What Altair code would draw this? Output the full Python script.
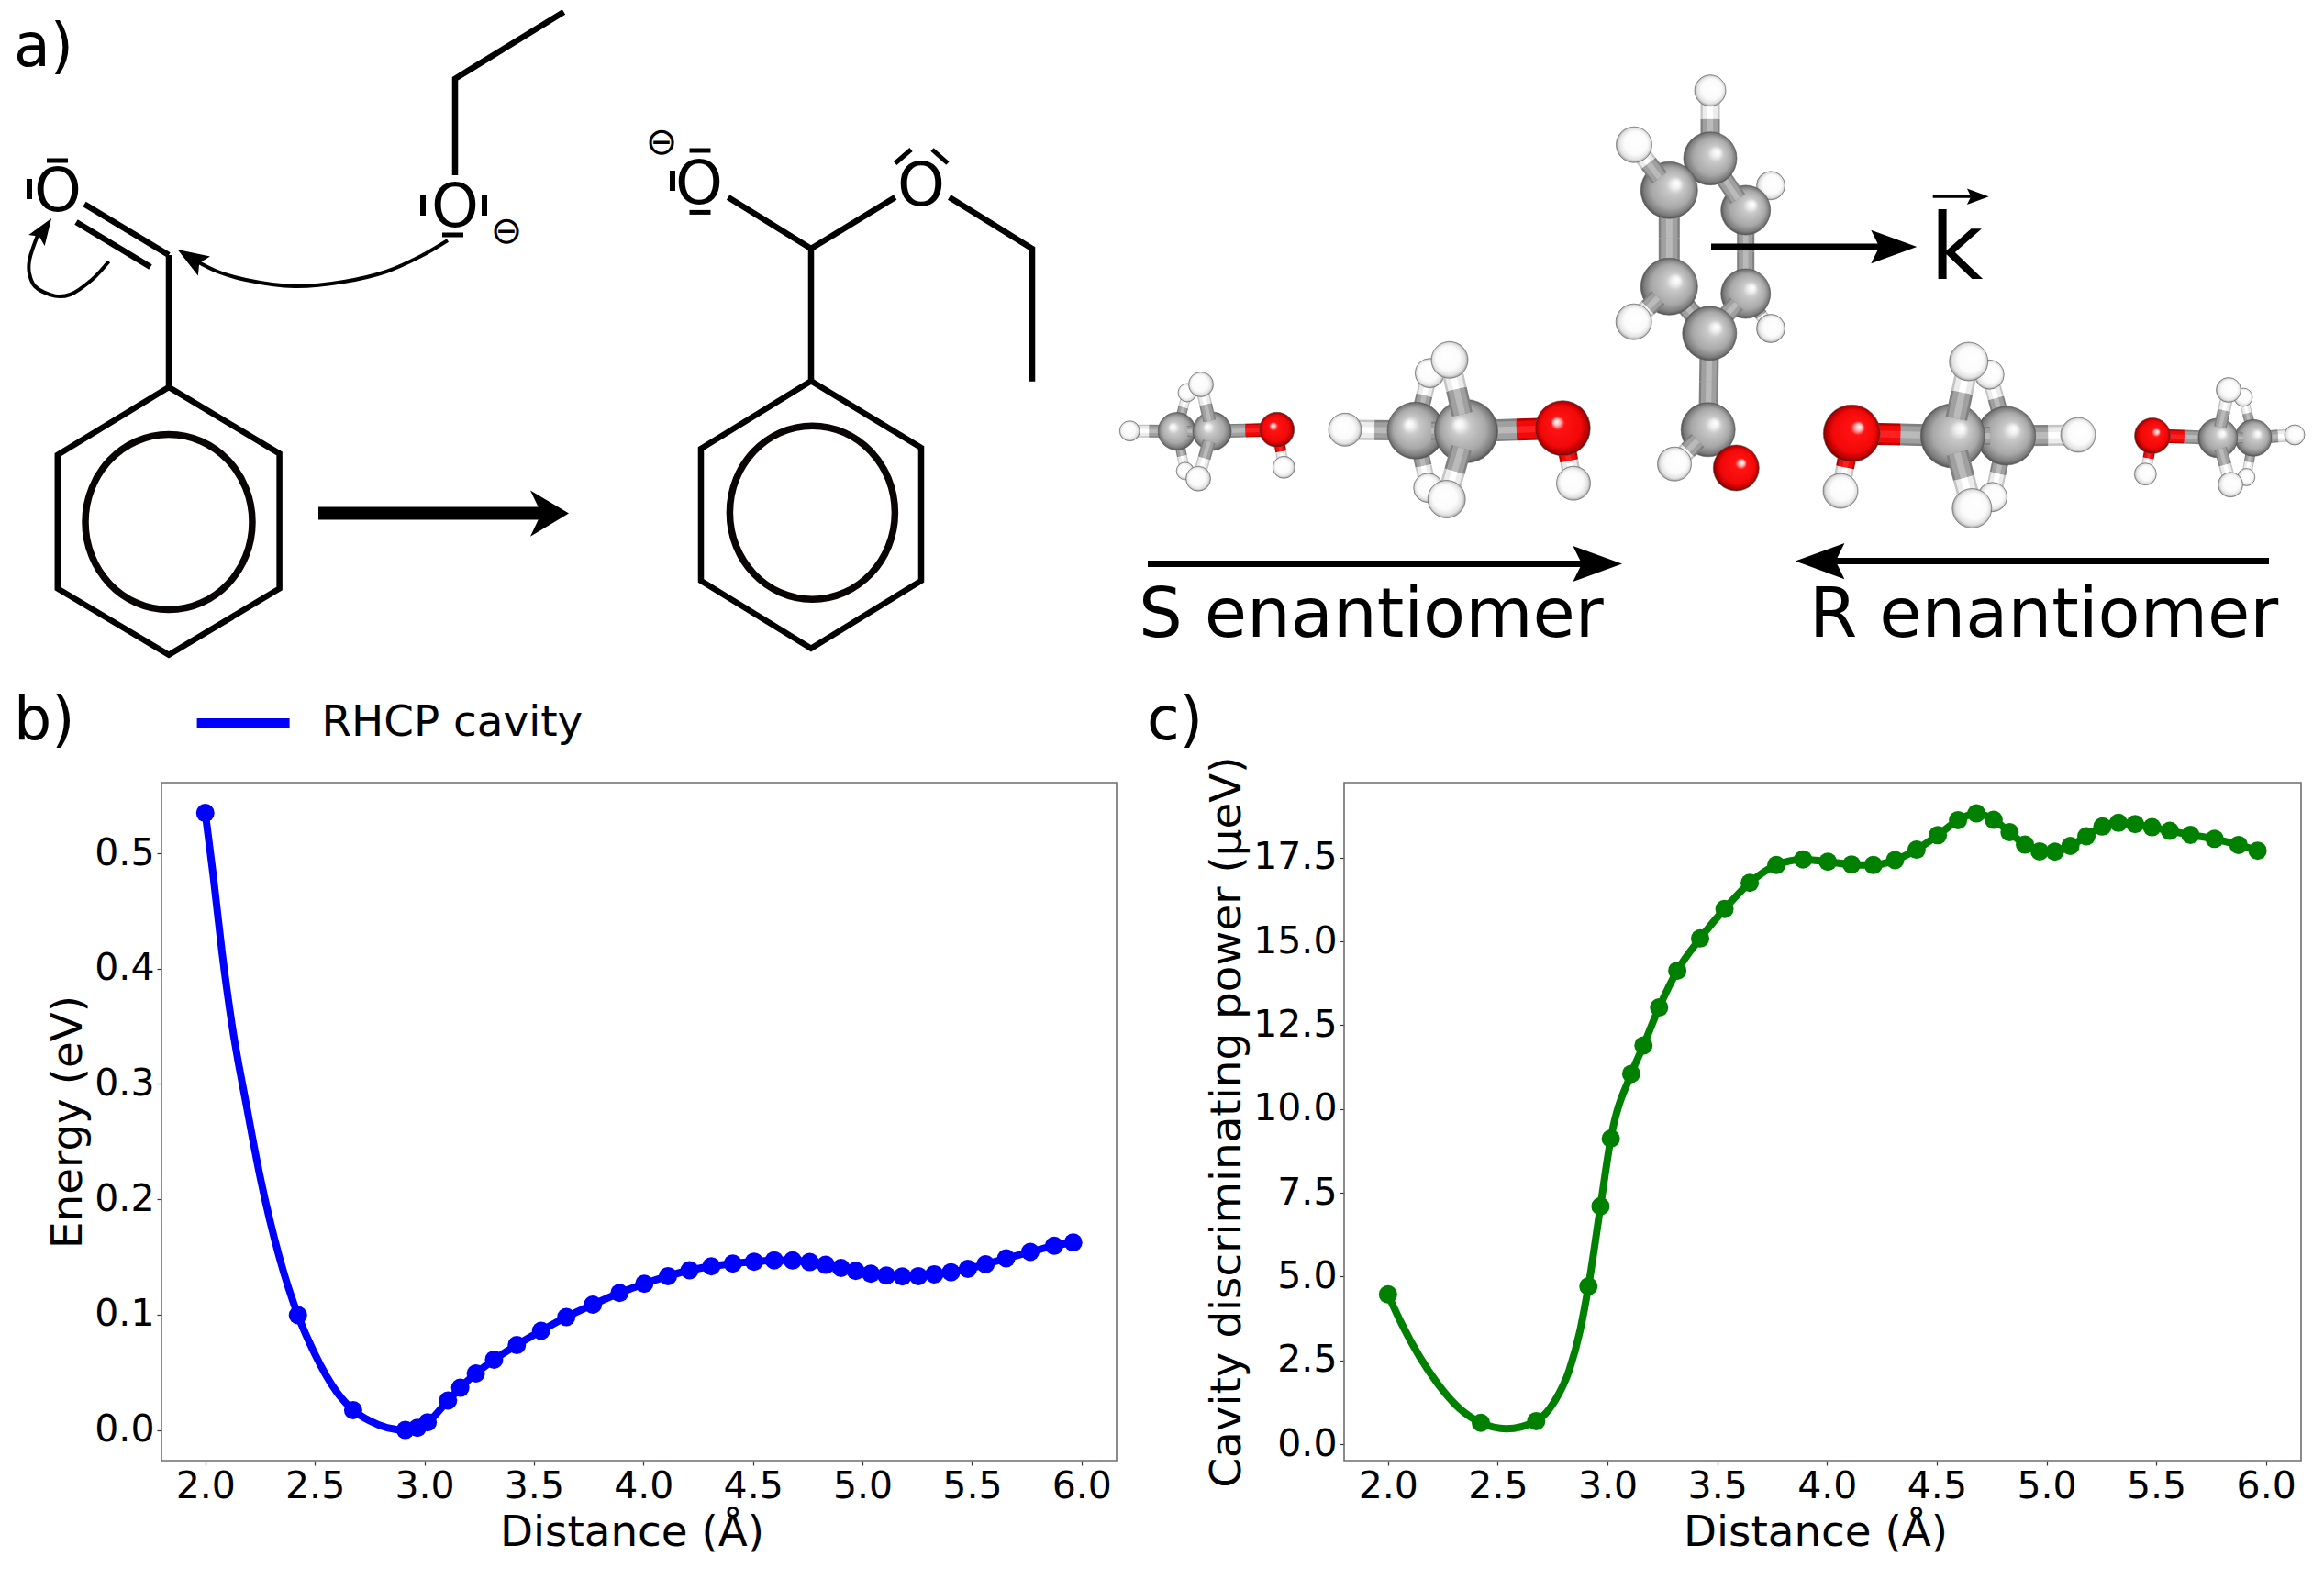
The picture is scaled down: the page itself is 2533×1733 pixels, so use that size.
import math
import altair as alt
import pandas as pd

FONT = "DejaVu Sans"
W, H = 2517, 1717

# ------------------------- plot data -------------------------
distance = [2.0, 2.423, 2.675, 2.913, 2.968, 3.015, 3.108, 3.164, 3.235, 3.318, 3.422, 3.533, 3.648,
            3.769, 3.891, 4.004, 4.112, 4.211, 4.31, 4.408, 4.505, 4.597, 4.681, 4.759, 4.832, 4.902,
            4.969, 5.038, 5.109, 5.182, 5.255, 5.328, 5.404, 5.481, 5.562, 5.656, 5.766, 5.875, 5.962]
energy = [.535, .0995, .0172, .0, .0019, .0067, .0255, .0366, .0490, .0610, .0737, .0860, .0979,
          .1087, .1188, .1268, .1334, .1385, .1419, .1443, .1459, .1471, .1470, .1456, .1432, .1405,
          .1379, .1355, .1339, .1331, .1334, .1350, .1368, .1397, .1437, .1488, .1544, .1597, .1626]
power = [4.47, .64, .69, 4.71, 7.10, 9.12, 11.05, 11.90, 13.03, 14.13, 15.09, 15.97, 16.75,
         17.28, 17.45, 17.38, 17.30, 17.28, 17.43, 17.74, 18.17, 18.62, 18.82, 18.63, 18.26, 17.89,
         17.69, 17.68, 17.85, 18.14, 18.43, 18.54, 18.50, 18.41, 18.30, 18.18, 18.06, 17.88, 17.71]
# extra points, between the markers
energy_curve_x = [2.036, 2.076, 2.124, 2.187, 2.254, 2.338, 2.5, 2.6, 2.75, 2.83]
energy_curve_y = [.4812, .4149, .3487, .2824, .2161, .1498, .066, .033, .008, .002]
power_curve_x = [2.06, 2.143, 2.227, 2.325, 2.54, 2.756, 2.826, 2.875]
power_curve_y = [3.62, 2.62, 1.80, 1.07, .46, 1.25, 2.21, 3.39]

x_ticks = [2.0, 2.5, 3.0, 3.5, 4.0, 4.5, 5.0, 5.5, 6.0]
energy_ticks = [0.0, 0.1, 0.2, 0.3, 0.4, 0.5]
power_ticks = [0.0, 2.5, 5.0, 7.5, 10.0, 12.5, 15.0, 17.5]

# ------------------------- schematic data (picture coordinates) -------------------------
# name, x, y, radius, kind, depth, side of the highlight
atoms = [
    ("c_hur", 1930, 202.3, 15.5, "H", 1, "R"), ("c_hlr", 1930, 358, 15.5, "H", 1, "R"),
    ("c_cur", 1902.7, 229, 27, "C", 1, "R"), ("c_clr", 1902.7, 320, 27, "C", 1, "R"),
    ("c_htop", 1864, 98.7, 17, "H", 2, "R"), ("c_ctop", 1864, 172.7, 29, "C", 2, "R"),
    ("c_cul", 1819.3, 207.3, 31, "C", 2, "R"), ("c_cll", 1819.3, 312.3, 31, "C", 2, "R"),
    ("c_cbot", 1863.3, 363.3, 29.5, "C", 2, "R"), ("c_cald", 1861.7, 468.3, 29.5, "C", 2, "R"),
    ("c_oald", 1892.3, 510, 25, "O", 2, "R"),
    ("c_hul", 1781, 157.7, 19.5, "H", 3, "R"), ("c_hll", 1780.7, 350.7, 19.5, "H", 3, "R"),
    ("c_hald", 1825, 505.7, 18.5, "H", 3, "R"),
    # small S
    ("s1_hub", 1294, 428, 10, "H", 1, "L"), ("s1_hdb", 1291.7, 513.3, 9.5, "H", 1, "L"),
    ("s1_hl", 1231.3, 469.7, 11, "H", 1, "L"), ("s1_cl", 1282.7, 470, 20.5, "C", 1, "L"),
    ("s1_cr", 1321, 470, 21, "C", 2, "L"), ("s1_hoh", 1399.3, 509.3, 12, "H", 2, "L"),
    ("s1_o", 1391.7, 468.3, 19, "O", 2, "L"),
    ("s1_huf", 1309, 419, 13.5, "H", 3, "L"), ("s1_hdf", 1306, 521.7, 13.5, "H", 3, "L"),
    # big S
    ("s2_hub", 1558.3, 406.7, 16, "H", 1, "L"), ("s2_hdb", 1556.7, 531.7, 16, "H", 1, "L"),
    ("s2_hl", 1466, 468.3, 18, "H", 1, "L"), ("s2_cl", 1543, 469.3, 31, "C", 1, "L"),
    ("s2_cr", 1598, 470, 34.5, "C", 2, "L"), ("s2_hoh", 1715, 526.7, 18.5, "H", 2, "L"),
    ("s2_o", 1703.3, 466.7, 30, "O", 2, "L"),
    ("s2_huf", 1580, 392.3, 20, "H", 3, "L"), ("s2_hdf", 1576.7, 544, 20.5, "H", 3, "L"),
    # big R
    ("r2_hub", 2168.3, 408.3, 16, "H", 1, "R"), ("r2_hdb", 2171.7, 541.7, 16, "H", 1, "R"),
    ("r2_hr", 2265, 474, 19, "H", 1, "R"), ("r2_cr", 2186.7, 475, 32, "C", 1, "R"),
    ("r2_cl", 2128.3, 475, 35, "C", 2, "R"), ("r2_hoh", 2006, 535, 19, "H", 2, "R"),
    ("r2_o", 2018.3, 472.3, 31, "O", 2, "R"),
    ("r2_huf", 2145.7, 394, 21, "H", 3, "R"), ("r2_hdf", 2149.3, 554, 21.5, "H", 3, "R"),
    # small R
    ("r1_hub", 2445, 433, 10, "H", 1, "R"), ("r1_hdb", 2448.3, 520, 9.5, "H", 1, "R"),
    ("r1_hr", 2501, 474, 11, "H", 1, "R"), ("r1_cr", 2456, 477.3, 20, "C", 1, "R"),
    ("r1_cl", 2417.3, 477.3, 21.5, "C", 2, "R"), ("r1_hoh", 2338.3, 516.7, 12, "H", 2, "R"),
    ("r1_o", 2346, 475, 19.5, "O", 2, "R"),
    ("r1_huf", 2429, 425, 13.5, "H", 3, "R"), ("r1_hdf", 2431, 528.3, 13.5, "H", 3, "R"),
]
# atom, atom, depth, width
bonds = [
    ("c_hur", "c_cur", 1, 14), ("c_hlr", "c_clr", 1, 14), ("c_cur", "c_clr", 1, 19),
    ("c_cur", "c_ctop", 2, 19), ("c_clr", "c_cbot", 2, 19), ("c_ctop", "c_htop", 2, 21),
    ("c_ctop", "c_cul", 2, 21), ("c_cul", "c_cll", 2, 23), ("c_cll", "c_cbot", 2, 21),
    ("c_cbot", "c_cald", 2, 21), ("c_cald", "c_oald", 2, 18), ("c_cul", "c_hul", 3, 20),
    ("c_cll", "c_hll", 3, 20), ("c_cald", "c_hald", 3, 20),
    ("s1_cl", "s1_hub", 1, 11), ("s1_cl", "s1_hdb", 1, 11), ("s1_cl", "s1_hl", 1, 14),
    ("s1_cl", "s1_cr", 2, 12), ("s1_cr", "s1_o", 2, 15), ("s1_o", "s1_hoh", 2, 12),
    ("s1_cr", "s1_huf", 3, 14), ("s1_cr", "s1_hdf", 3, 14),
    ("s2_cl", "s2_hub", 1, 18), ("s2_cl", "s2_hdb", 1, 18), ("s2_cl", "s2_hl", 1, 22),
    ("s2_cl", "s2_cr", 2, 20), ("s2_cr", "s2_o", 2, 24), ("s2_o", "s2_hoh", 2, 20),
    ("s2_cr", "s2_huf", 3, 23), ("s2_cr", "s2_hdf", 3, 23),
    ("r2_cr", "r2_hub", 1, 18), ("r2_cr", "r2_hdb", 1, 18), ("r2_cr", "r2_hr", 1, 23),
    ("r2_cr", "r2_cl", 2, 20), ("r2_cl", "r2_o", 2, 24), ("r2_o", "r2_hoh", 2, 20),
    ("r2_cl", "r2_huf", 3, 24), ("r2_cl", "r2_hdf", 3, 24),
    ("r1_cr", "r1_hub", 1, 11), ("r1_cr", "r1_hdb", 1, 11), ("r1_cr", "r1_hr", 1, 14),
    ("r1_cr", "r1_cl", 2, 12), ("r1_cl", "r1_o", 2, 15), ("r1_o", "r1_hoh", 2, 12),
    ("r1_cl", "r1_huf", 3, 14), ("r1_cl", "r1_hdf", 3, 14),
]
bond_base = {"C": "#808080", "H": "#c4c4c4", "O": "#bc0000"}
bond_mid = {"C": "#a0a0a0", "H": "#ececec", "O": "#f00a0a"}
bond_light = {"C": "#bababa", "H": "#ffffff", "O": "#ff2020"}

# width, then the points of each drawn stroke
chem_paths = [
    # reactant
    (6.5, [(614.5, 13), (496, 85.7), (496, 191)]),
    (6.5, [(92, 222.5), (184, 278)]), (6.5, [(83, 242), (164, 291)]), (6.5, [(184, 278), (184, 422)]),
    (6.5, [(184, 422), (304.6, 494.4), (304.6, 641.5), (184, 713.7), (62.8, 641.5), (62.8, 495.8), (184, 422), (304.6, 494.4)]),
    (6, [(32, 195), (32, 217)]), (5, [(51, 175), (74, 175)]),
    (6, [(461, 212), (461, 235)]), (6, [(528, 212), (528, 235)]), (5, [(482, 256), (505, 256)]),
    # product
    (6.5, [(793.6, 215), (884, 271), (975.7, 215)]), (6.5, [(884, 271), (884, 415.3)]),
    (6.5, [(1034.7, 215), (1125, 271), (1125, 415.7)]),
    (6.5, [(884, 415.3), (1004, 488), (1004, 633), (884, 706.7), (764, 633), (764, 489), (884, 415.3), (1004, 488)]),
    (6, [(733, 186), (733, 208)]), (5, [(751.5, 164), (774.5, 164)]), (5, [(751.5, 231.4), (774.5, 231.4)]),
    (5, [(975.7, 178), (993, 163)]), (5, [(1033, 178), (1016, 163)]),
    # straight arrows
    (14, [(347, 559.6), (595, 559.6)]), (7, [(1865, 269), (2055, 269)]), (3, [(2106.7, 214.3), (2150, 214.3)]),
    (7, [(1251, 614.5), (1730, 614.5)]), (7, [(2473, 611.6), (1995, 611.6)]),
]
curved_paths = [
    [(118.6, 285), (100, 305), (76.5, 321), (60, 322.6), (38, 312), (32, 298), (32, 284), (42, 254)],
    [(488, 262), (459, 279), (421, 296), (375, 307), (321, 312), (268, 305), (237, 296), (216.6, 286)],
]
# x, y, direction, half length, shape number
arrow_heads = [
    (599, 559.6, 0, 21, 1), (2064.3, 269, 0, 25, 0), (2155.8, 214.3, 0, 11.9, 0),
    (1741.2, 614.5, 0, 26.8, 0), (1983.6, 611.6, 180, 26.8, 0),
    (48, 250, 304, 14.5, 0), (208, 281, 212, 17, 0),
]
head_shapes = ["M-1,-0.73L1,0L-1,0.73L-0.64,0Z", "M-1,-1.2L1,0L-1,1.2L-0.43,0Z"]
# x, y, half width, height ratio
rings = [(184, 569, 91), (885.4, 558.7, 90)]
RING_SHAPE = "M-1,0A1,1.05 0 1,1 1,0A1,1.05 0 1,1 -1,0Z"

left_texts = [
    ("a)", 15, 72, 65), ("b)", 15, 806, 65), ("c)", 1250, 806, 65),
    ("S enantiomer", 1241, 694.4, 75.3), ("R enantiomer", 1972, 694.4, 75.3),
    ("k", 2103.6, 304.3, 100),
]
center_texts = [
    ("O", 63, 210, 66), ("O", 496, 227, 66), ("O", 762, 202, 66), ("O", 1004, 204, 66),
    ("\u2296", 552, 253, 41), ("\u2296", 721, 156, 41),
]
frames = [(176, 1217, 853, 1592), (1465, 2508, 853, 1592)]
legend_name = "RHCP cavity"

# ------------------------- scales -------------------------
SX = alt.Scale(domain=[8, 8 + W], range=[0, W])
SY = alt.Scale(domain=[8, 8 + H], range=[0, H])
def cx(f="x"): return alt.X(f"{f}:Q", scale=SX, axis=None)
def cy(f="y"): return alt.Y(f"{f}:Q", scale=SY, axis=None)

layers = []

# frames
frame_df = pd.DataFrame(frames, columns=["x", "x2", "y", "y2"])
layers.append(alt.Chart(frame_df).mark_rect(fill="#ffffff", fillOpacity=0, stroke="#6e6e6e", strokeWidth=1.6).encode(
    x=cx(), x2="x2:Q", y=cy(), y2="y2:Q"))

# molecules
atom_df = pd.DataFrame(atoms, columns=["name", "x", "y", "r", "kind", "z", "side"])
atom_df["size"] = [4 * r * r for r in atom_df.r]
look = atom_df.set_index("name")
rows = []
for a, b, z, w in bonds:
    A, B = look.loc[a], look.loc[b]
    d = math.hypot(B.x - A.x, B.y - A.y)
    ux, uy = (B.x - A.x) / d, (B.y - A.y) / d
    t = A.r + (d - A.r - B.r) / 2
    mx, my = A.x + t * ux, A.y + t * uy
    # the stick leaves each sphere part way out from its centre
    sx, sy = A.x + .55 * A.r * ux, A.y + .55 * A.r * uy
    ex, ey = B.x - .55 * B.r * ux, B.y - .55 * B.r * uy
    for (x0, y0, x1, y1, k) in [(sx, sy, mx, my, A.kind), (mx, my, ex, ey, B.kind)]:
        rows.append(dict(x=x0, y=y0, x2=x1, y2=y1, c=bond_base[k], m=bond_mid[k], h=bond_light[k],
                         w=w, mw=w * .78, hw=w * .3, z=z))
bond_df = pd.DataFrame(rows)

stops = {
    "C": [(0, "#ffffff"), (.13, "#f2f2f2"), (.3, "#c8c8c8"), (.68, "#a8a8a8"), (.88, "#7c7c7c"), (1, "#444444")],
    "H": [(0, "#ffffff"), (.62, "#fbfbfb"), (.85, "#e2e2e2"), (1, "#8c8c8c")],
    "O": [(0, "#ffffff"), (.12, "#ffb4b4"), (.24, "#ff1212"), (.72, "#f20808"), (.9, "#b00000"), (1, "#520000")],
}
def grad(kind, side):
    fx = .38 if side == "L" else .64
    return {"gradient": "radial", "x1": fx, "y1": .38, "r1": 0, "x2": .5, "y2": .5, "r2": .52,
            "stops": [{"offset": o, "color": c} for o, c in stops[kind]]}

for z in [1, 2, 3]:
    b = bond_df[bond_df.z == z]
    for col, wcol in [("c", "w"), ("m", "mw"), ("h", "hw")]:
        layers.append(alt.Chart(b).mark_rule(strokeCap="butt").encode(
            x=cx(), y=cy(), x2="x2:Q", y2="y2:Q",
            stroke=alt.Color(f"{col}:N", scale=None), strokeWidth=alt.StrokeWidth(f"{wcol}:Q", scale=None)))
    for kind in ["H", "C", "O"]:
        for side in ["L", "R"]:
            sel = atom_df[(atom_df.z == z) & (atom_df.kind == kind) & (atom_df.side == side)]
            if len(sel):
                layers.append(alt.Chart(sel).mark_circle(
                    fill=grad(kind, side), opacity=1, stroke="#555555", strokeWidth=.6).encode(
                    x=cx(), y=cy(), size=alt.Size("size:Q", scale=None)))

# chemistry strokes
rows = []
for i, (w, pts) in enumerate(chem_paths):
    for j, (x, y) in enumerate(pts):
        rows.append(dict(id=i, o=j, x=x, y=y, w=w))
layers.append(alt.Chart(pd.DataFrame(rows)).mark_line(color="#000000", strokeCap="butt", strokeJoin="miter").encode(
    x=cx(), y=cy(), detail="id:N", order="o:Q", strokeWidth=alt.StrokeWidth("w:Q", scale=None)))
rows = []
for i, pts in enumerate(curved_paths):
    for j, (x, y) in enumerate(pts):
        rows.append(dict(id=i, o=j, x=x, y=y))
layers.append(alt.Chart(pd.DataFrame(rows)).mark_line(color="#000000", strokeWidth=4, interpolate="catmull-rom").encode(
    x=cx(), y=cy(), detail="id:N", order="o:Q"))

# arrow heads
head_df = pd.DataFrame(arrow_heads, columns=["x", "y", "a", "hl", "shape"])
head_df["s"] = (2 * head_df.hl) ** 2
for k, shp in enumerate(head_shapes):
    layers.append(alt.Chart(head_df[head_df["shape"] == k]).mark_point(
        shape=shp, filled=True, fill="#000000", opacity=1, strokeWidth=0).encode(
        x=cx(), y=cy(), size=alt.Size("s:Q", scale=None), angle=alt.Angle("a:Q", scale=None)))

# aromatic rings
ring_df = pd.DataFrame(rings, columns=["x", "y", "hw"])
ring_df["s"] = (2 * ring_df.hw) ** 2
layers.append(alt.Chart(ring_df).mark_point(shape=RING_SHAPE, filled=False, stroke="#0a0505", strokeWidth=7.5, opacity=1).encode(
    x=cx(), y=cy(), size=alt.Size("s:Q", scale=None)))

# texts
text_df = pd.DataFrame(left_texts, columns=["t", "x", "y", "s"])
layers.append(alt.Chart(text_df).mark_text(font=FONT, align="left", baseline="alphabetic", color="#000000").encode(
    x=cx(), y=cy(), text="t:N", size=alt.Size("s:Q", scale=None)))
text_df2 = pd.DataFrame(center_texts, columns=["t", "x", "y", "s"])
layers.append(alt.Chart(text_df2).mark_text(font=FONT, align="center", baseline="middle", color="#000000").encode(
    x=cx(), y=cy(), text="t:N", size=alt.Size("s:Q", scale=None)))

# ------------------------- the two plots -------------------------
XD = [1.80, 6.16]
def axis_common(**kw):
    return alt.Axis(grid=False, domain=False, tickColor="#333333", tickSize=5, tickWidth=1.2,
                    labelFont=FONT, labelFontSize=41, labelColor="#000000", labelPadding=3, labelOverlap=False,
                    titleFont=FONT, titleFontSize=46.8, titleFontWeight="normal", titleColor="#000000",
                    format=".1f", **kw)

def panel(xs, ys, cxs, cys, frame, ydom, yticks, ytitle, color, title_x, legend=None):
    left, right, top, bottom = frame
    xrange_ = [left - 8, right - 8]
    yrange_ = [bottom - 8, top - 8]
    xs_ = alt.Scale(domain=XD, range=xrange_, nice=False, zero=False)
    ys_ = alt.Scale(domain=ydom, range=yrange_, nice=False, zero=False)
    line = pd.DataFrame({"d": list(xs) + list(cxs), "v": list(ys) + list(cys)}).sort_values("d")
    line["series"] = legend_name
    pts = pd.DataFrame({"d": xs, "v": ys})
    xaxis = axis_common(values=x_ticks, orient="bottom", offset=(bottom - 8) - H, title="Distance (\u00c5)",
                        titleX=(left + right) / 2 - 8 - 8, titleY=92, titleBaseline="alphabetic")
    yaxis = axis_common(values=yticks, orient="left", offset=-(left - 8), title=ytitle,
                        titleX=title_x, titleBaseline="alphabetic", titleAngle=270, titleAlign="center",
                        titleY=(top + bottom) / 2 - 8)
    enc = dict(x=alt.X("d:Q", scale=xs_, axis=xaxis), y=alt.Y("v:Q", scale=ys_, axis=yaxis))
    if legend:
        l = alt.Chart(line).mark_line(strokeWidth=8, interpolate="monotone").encode(
            color=alt.Color("series:N", scale=alt.Scale(domain=[legend_name], range=[color]), legend=legend), **enc)
    else:
        l = alt.Chart(line).mark_line(strokeWidth=8, interpolate="monotone", color=color).encode(**enc)
    p = alt.Chart(pts).mark_circle(color=color, opacity=1, size=400).encode(
        x=alt.X("d:Q", scale=xs_, axis=None), y=alt.Y("v:Q", scale=ys_, axis=None))
    return [l, p]

legend = alt.Legend(orient="none", legendX=201.6, legendY=724.5, title=None, symbolType="stroke",
                    symbolSize=10200, symbolStrokeWidth=10, labelFont=FONT, labelFontSize=46.8, labelColor="#000000",
                    labelOffset=30, labelLimit=500, padding=0)
layers += panel(distance, energy, energy_curve_x, energy_curve_y, frames[0], [-0.02657, 0.5613],
                energy_ticks, "Energy (eV)", "#0000ff", -88, legend)
layers += panel(distance, power, power_curve_x, power_curve_y, frames[1], [-0.49, 19.74],
                power_ticks, "Cavity discriminating power (\u03bceV)", "#008000", -114)

chart = alt.layer(*layers).resolve_scale(x="independent", y="independent", color="independent").resolve_axis(
    x="independent", y="independent").properties(
    width=W, height=H, padding=0, autosize=alt.AutoSizeParams(type="none"), background="#ffffff"
).configure_view(stroke=None)

chart.save("out.html", embed_options={"renderer": "svg", "actions": False})
